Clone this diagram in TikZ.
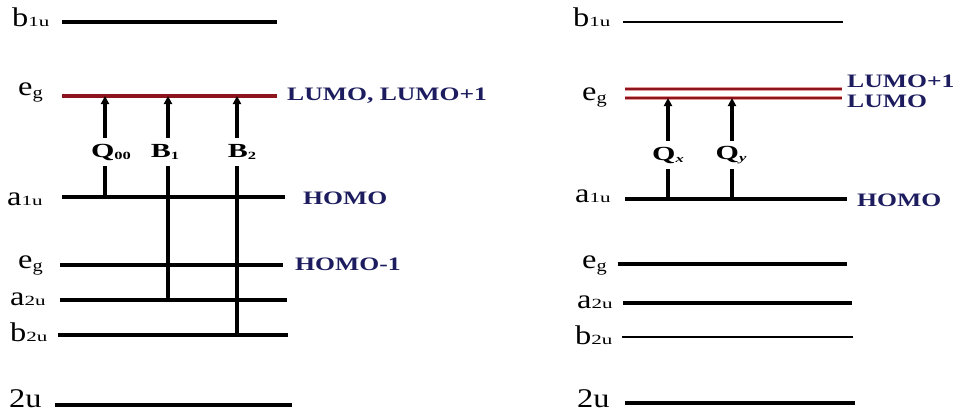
\documentclass[tikz,border=0pt]{standalone}
\usepackage{fontspec}
\usepackage{graphicx}
\setmainfont{Liberation Serif}[FakeStretch=1.2]
\newfontfamily\subfont{Liberation Serif}[FakeStretch=1.5]
\newfontfamily\bluefont{Liberation Serif}[FakeStretch=1.35]
\newfontfamily\trfont{Liberation Serif}[FakeStretch=1.5]
\usetikzlibrary{arrows.meta}
\definecolor{navy}{RGB}{28,28,95}
\definecolor{lumored}{RGB}{140,20,28}
\definecolor{lumohalo}{RGB}{228,150,150}
\newcommand\orb[2]{{\fontsize{27}{27}\selectfont #1}{\subfont\fontsize{14}{14}\selectfont #2}}
\newcommand\orbg{{\fontsize{27}{27}\selectfont e}\raisebox{-3pt}{\fontsize{17}{17}\selectfont g}}
\newcommand\trl[2]{{\trfont\bfseries\fontsize{20}{20}\selectfont #1}\raisebox{-2pt}{\trfont\bfseries\fontsize{11}{11}\selectfont #2}}
\begin{document}
\begin{tikzpicture}[x=1pt,y=-1pt,
  lvl/.style={line width=4pt, black},
  thinlvl/.style={line width=2.6pt, black},
  lumo/.style={line width=3pt, lumored, preaction={draw=lumohalo, line width=4.5pt}},
  exc/.style={line width=3.4pt, black, -{Triangle[length=8pt,width=8pt]}},
  trlab/.style={fill=white, inner sep=1pt, minimum height=28pt},
  orblab/.style={anchor=base west, inner sep=0pt},
  fmo/.style={anchor=west, inner sep=0pt, text=navy, font=\bluefont\bfseries\fontsize{19}{19}\selectfont}]
\useasboundingbox (0,0) rectangle (973,416);
\fill[white] (0,0) rectangle (973,416);

% ---------------- left panel ----------------
\coordinate (lb1uW) at (62,22);  \coordinate (lb1uE) at (277,22);
\coordinate (legW)  at (62,96);  \coordinate (legE)  at (277,96);
\coordinate (la1uW) at (62,197); \coordinate (la1uE) at (285,197);
\coordinate (leg2W) at (60,265); \coordinate (leg2E) at (283,265);
\coordinate (la2uW) at (60,300); \coordinate (la2uE) at (287,300);
\coordinate (lb2uW) at (58,335); \coordinate (lb2uE) at (288,335);
\coordinate (l2uW)  at (55,405); \coordinate (l2uE)  at (292,405);

\draw[lvl, line width=4.5pt] (lb1uW) -- (lb1uE);
\draw[lvl] (la1uW) -- (la1uE);
\draw[lvl] (leg2W) -- (leg2E);
\draw[lvl] (la2uW) -- (la2uE);
\draw[lvl, line width=3.4pt] (lb2uW) -- (lb2uE);
\draw[lvl, line width=3.4pt] (l2uW) -- (l2uE);
\draw[lumo, line width=3.6pt] (legW) -- (legE);

\node[orblab] (tlb1u) at (12,26)  {\orb{b}{1u}};
\node[orblab] (tleg)  at (18,95)  {\orbg};
\node[orblab] (tla1u) at (7,205)  {\orb{a}{1u}};
\node[orblab] (tleg2) at (18,268) {\orbg};
\node[orblab] (tla2u) at (10,305) {\orb{a}{2u}};
\node[orblab] (tlb2u) at (10,341) {\orb{b}{2u}};
\node[orblab] (tl2u)  at (9,407)  {{\fontsize{27}{27}\selectfont 2u}};

\coordinate (q00s) at (105,197); \coordinate (q00e) at (105,96);
\coordinate (b1s)  at (168,300); \coordinate (b1e)  at (168,96);
\coordinate (b2s)  at (237,335); \coordinate (b2e)  at (237,96);
\draw[exc] (q00s) -- (q00e);
\draw[exc] (b1s) -- (b1e);
\draw[exc] (b2s) -- (b2e);
\node[trlab] (tq00) at (111,152) {\trl{Q}{00}};
\node[trlab] (tb1)  at (165,152) {\trl{B}{1}};
\node[trlab] (tb2)  at (242,152) {\trl{B}{2}};

\node[fmo] (tlumo)  at (287,96)  {LUMO, LUMO+1};
\node[fmo] (thomo)  at (303,198) {HOMO};
\node[fmo] (thomo1) at (295,264) {HOMO-1};

% ---------------- right panel ----------------
\coordinate (rb1uW) at (623,22);  \coordinate (rb1uE) at (843,22);
\coordinate (reg1W) at (625,89);  \coordinate (reg1E) at (842,89);
\coordinate (reg0W) at (625,98);  \coordinate (reg0E) at (842,98);
\coordinate (ra1uW) at (625,199); \coordinate (ra1uE) at (847,199);
\coordinate (reg2W) at (618,264); \coordinate (reg2E) at (847,264);
\coordinate (ra2uW) at (623,303); \coordinate (ra2uE) at (852,303);
\coordinate (rb2uW) at (622,337); \coordinate (rb2uE) at (853,337);
\coordinate (r2uW)  at (625,403); \coordinate (r2uE)  at (855,403);

\draw[thinlvl] (rb1uW) -- (rb1uE);
\draw[lvl] (ra1uW) -- (ra1uE);
\draw[lvl] (reg2W) -- (reg2E);
\draw[lvl, line width=4.6pt] (ra2uW) -- (ra2uE);
\draw[thinlvl] (rb2uW) -- (rb2uE);
\draw[lvl, line width=3.4pt] (r2uW) -- (r2uE);
\draw[lumo, line width=2.4pt] (reg1W) -- (reg1E);
\draw[lumo, line width=2.4pt] (reg0W) -- (reg0E);

\node[orblab] (trb1u) at (573,26)  {\orb{b}{1u}};
\node[orblab] (treg)  at (582,100) {\orbg};
\node[orblab] (tra1u) at (575,202) {\orb{a}{1u}};
\node[orblab] (treg2) at (582,268) {\orbg};
\node[orblab] (tra2u) at (577,308) {\orb{a}{2u}};
\node[orblab] (trb2u) at (575,344) {\orb{b}{2u}};
\node[orblab] (tr2u)  at (577,407) {{\fontsize{27}{27}\selectfont 2u}};

\coordinate (qxs) at (668,199); \coordinate (qxe) at (668,98);
\coordinate (qys) at (732,199); \coordinate (qye) at (732,98);
\draw[exc] (qxs) -- (qxe);
\draw[exc] (qys) -- (qye);
\node[trlab] (tqx) at (668,155) {\trl{Q}{\itshape x}};
\node[trlab] (tqy) at (731,155) {\trl{Q}{\itshape y}};

\node[fmo] (trlumo1) at (847,81)  {LUMO+1};
\node[fmo] (trlumo)  at (847,101) {LUMO};
\node[fmo] (trhomo)  at (857,200) {HOMO};
\end{tikzpicture}
\end{document}
